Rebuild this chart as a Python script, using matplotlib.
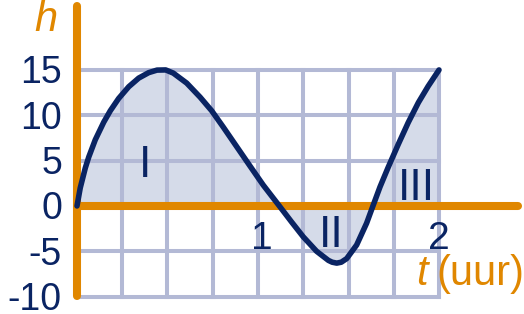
import matplotlib
matplotlib.use("Agg")
import matplotlib.pyplot as plt

# ---- data ----
t_vals = [0, 0.018, 0.046, 0.065, 0.101, 0.148, 0.184, 0.230, 0.286, 0.341,
          0.396, 0.442, 0.49, 0.532, 0.606, 0.680, 0.744, 0.808, 0.882, 0.956,
          1.029, 1.118, 1.185, 1.25, 1.324, 1.389, 1.41, 1.435, 1.46, 1.49, 1.545,
          1.60, 1.635, 1.674, 1.72, 1.775, 1.83, 1.886, 1.94, 2.0]
h_vals = [0, 2.0, 4.2, 5.4, 7.3, 9.25, 10.5, 11.85, 13.15, 14.1,
          14.7, 14.98, 15.0, 14.65, 13.55, 12.0, 10.5, 8.7, 6.55, 4.4,
          2.3, 0, -1.75, -3.4, -5.0, -6.0, -6.2, -6.3, -6.2, -5.8, -4.3,
          -1.9, 0, 2.1, 4.3, 6.8, 9.2, 11.4, 13.2, 15.0]

x_grid = [0, 0.25, 0.5, 0.75, 1.0, 1.25, 1.5, 1.75, 2.0]
y_grid = [-10, -5, 0, 5, 10, 15]
y_tick_labels = ["15", "10", "5", "0", "-5", "-10"]
y_tick_values = [15, 10, 5, 0, -5, -10]
x_tick_labels = ["1", "2"]
x_tick_values = [1.02, 2.0]
region_labels = ["I", "II", "III"]
region_pos = [(0.375, 3.2), (1.405, -4.49), (1.873, 0.63)]

NAVY = "#0a2463"
ORANGE = "#e08700"
GRID = "#b3b9d5"
FILL = "#d5dbe9"
FONT = "Liberation Sans"

fig = plt.figure(figsize=(5.24, 3.14), dpi=100)
ax = fig.add_axes([0, 0, 1, 1])
ax.set_xlim(-0.4254, 2.4696)
ax.set_ylim(-11.91, 22.71)
ax.axis("off")

ax.fill_between(t_vals, h_vals, 0, color=FILL, lw=0, zorder=1)

for xv in x_grid:
    ax.plot([xv, xv], [min(y_grid), max(y_grid)], color=GRID, lw=2.9,
            solid_capstyle="projecting", zorder=2)
for yv in y_grid:
    ax.plot([0, max(x_grid)], [yv, yv], color=GRID, lw=2.9,
            solid_capstyle="projecting", zorder=2)

# orange axes
ax.plot([0, 0], [-9.95, 22.05], color=ORANGE, lw=5.8, solid_capstyle="round", zorder=3)
ax.plot([0, 2.434], [0, 0], color=ORANGE, lw=5.8, solid_capstyle="round", zorder=3)

ax.plot(t_vals, h_vals, color=NAVY, lw=4.0, solid_capstyle="round",
        solid_joinstyle="round", zorder=4)

for lab, yv in zip(y_tick_labels, y_tick_values):
    ax.text(-0.083, yv - 1.48, lab, ha="right", va="baseline", fontsize=27,
            color=NAVY, family=FONT, zorder=5)
for lab, xv in zip(x_tick_labels, x_tick_values):
    ax.text(xv, -4.69, lab, ha="center", va="baseline", fontsize=28,
            color=NAVY, family=FONT, zorder=5)
for lab, (xv, yv) in zip(region_labels, region_pos):
    ax.text(xv, yv, lab, ha="center", va="baseline", fontsize=32,
            color=NAVY, family=FONT, zorder=5)

ax.text(-0.171, 19.3, "h", ha="center", va="baseline", fontsize=30,
        color=ORANGE, family=FONT, style="italic", zorder=5)
ax.text(1.906, -8.7, "t", ha="center", va="baseline", fontsize=30,
        color=ORANGE, family=FONT, style="italic", zorder=5)
ax.text(1.983, -8.7, "(uur)", ha="left", va="baseline", fontsize=30,
        color=ORANGE, family=FONT, zorder=5)

fig.savefig("out.png", dpi=100)
